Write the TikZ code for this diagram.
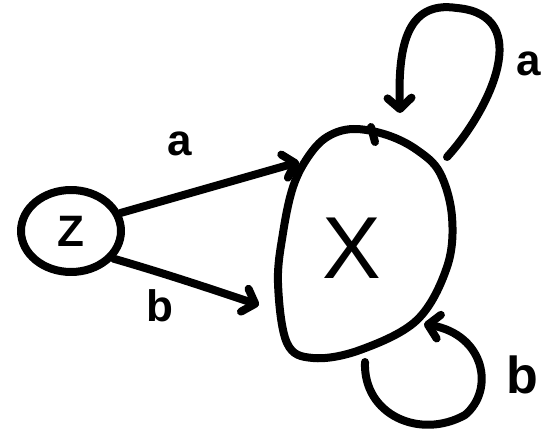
\documentclass[tikz,border=0pt]{standalone}
\usepackage{fontspec}
\setmainfont{Liberation Sans}
\usetikzlibrary{arrows.meta,shapes.geometric}
\tikzset{
  ink/.style={line width=8pt, line cap=round, line join=round},
  arr/.style={ink, -{Straight Barb[length=11pt,width=24pt,line cap=round,line join=round]}},
  lbl/.style={font=\fontsize{44}{44}\selectfont\bfseries, inner sep=0pt},
}
\begin{document}
\begin{tikzpicture}[x=1pt,y=-1pt]
\useasboundingbox[fill=white] (0,0) rectangle (543,433);
% Z state
\node[ellipse, draw, ink, minimum width=100pt, minimum height=82pt, inner sep=0pt,
      font=\fontsize{44}{44}\selectfont\bfseries] (Z) at (71,231) {Z};
% X state
\node[font=\fontsize{88}{88}\selectfont, inner sep=0pt] (X) at (352,248) {X};
\draw[ink] plot[smooth cycle, tension=0.6] coordinates {
  (353,129) (387,135) (417,150) (440,173) (452,217) (447,267) (417,320)
  (360,350) (313,358) (287,343) (278,283) (283,233) (293,187) (308,157) (327,137)};
\draw[ink] (371,127) -- (375,142);
% connector end points on the blob
\coordinate (Xa) at (299,162);
\coordinate (Xb) at (259,305);
\coordinate (XloopAout) at (447,157);
\coordinate (XloopAin) at (400,113);
\coordinate (XloopBout) at (365,362);
\coordinate (XloopBin) at (424,324);
% edges
\draw[arr] (Z.20) -- (Xa);
\draw[arr] (Z.-33) .. controls (170,275) and (220,292) .. (Xb);
\draw[arr] (XloopAout) .. controls (490,110) and (535,15) .. (457,8)
                       .. controls (405,0) and (398,50) .. (XloopAin);
\draw[arr] (XloopBout) .. controls (363,415) and (420,440) .. (465,415)
                       .. controls (495,390) and (485,335) .. (XloopBin);
% labels
\node[lbl] (la) at (180,144) {a};
\node[lbl] (lb) at (160,306) {b};
\node[lbl] (la2) at (529,64) {a};
\node[lbl, font=\fontsize{52}{52}\selectfont\bfseries] (lb2) at (522,375) {b};
\end{tikzpicture}
\end{document}
